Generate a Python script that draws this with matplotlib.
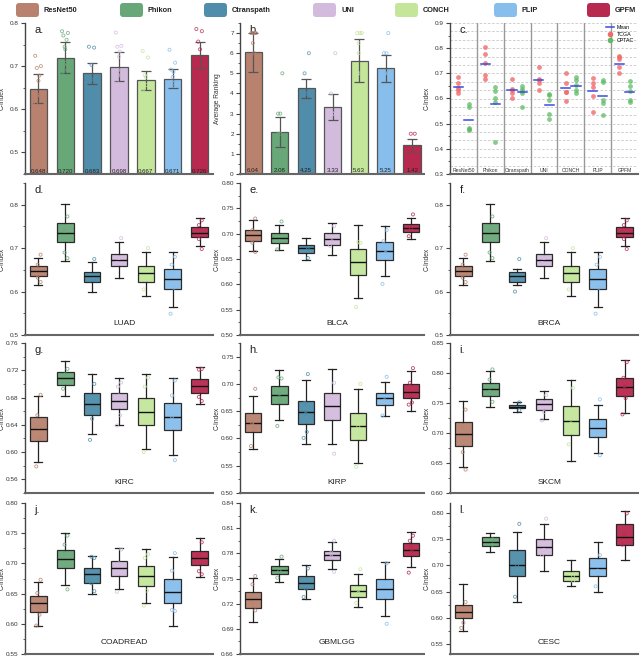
import matplotlib
matplotlib.use("Agg")
import matplotlib.pyplot as plt
import numpy as np
from matplotlib.patches import FancyBboxPatch
from matplotlib.lines import Line2D
from matplotlib.ticker import MultipleLocator

plt.rcParams['font.family'] = ['Liberation Sans', 'DejaVu Sans']

methods = ["ResNet50", "Phikon", "Ctranspath", "UNI", "CONCH", "PLIP", "GPFM"]
colors = ["#B8826F", "#68A878", "#4F8DAA", "#D3BBDD", "#C3E69B", "#87BEEB", "#B8294F"]

# ---- panel a: mean C-index ----
a_means = [0.648, 0.720, 0.683, 0.698, 0.667, 0.671, 0.726]
a_lo = [0.614, 0.684, 0.659, 0.665, 0.645, 0.650, 0.696]
a_hi = [0.682, 0.756, 0.707, 0.732, 0.689, 0.694, 0.756]
a_pts = [
    [0.724, 0.700, 0.696, 0.678, 0.666, 0.634, 0.631, 0.613, 0.517],
    [0.781, 0.777, 0.771, 0.761, 0.745, 0.739, 0.708, 0.703, 0.691, 0.679, 0.576],
    [0.745, 0.743, 0.703, 0.669, 0.635, 0.622],
    [0.778, 0.747, 0.745, 0.734, 0.722, 0.691, 0.679, 0.664, 0.573],
    [0.735, 0.720, 0.679, 0.675, 0.656, 0.640, 0.623],
    [0.738, 0.708, 0.692, 0.687, 0.675, 0.664, 0.654, 0.629, 0.608],
    [0.786, 0.781, 0.757, 0.739, 0.718, 0.695, 0.687, 0.625],
]

# ---- panel b: average ranking ----
b_means = [6.04, 2.08, 4.25, 3.33, 5.63, 5.25, 1.42]
b_lo = [5.06, 1.34, 3.77, 2.70, 4.55, 4.57, 1.09]
b_hi = [7.02, 2.82, 4.73, 3.97, 6.70, 5.92, 1.74]
b_pts = [
    [7, 7, 7, 7, 6.5, 6, 4, 2],
    [5, 3, 3, 2, 2, 1],
    [6, 5, 4, 4, 4, 3],
    [6, 4, 3, 3, 3, 2],
    [7, 7, 7, 6.5, 6, 5, 5, 1],
    [7, 6, 6, 5, 5, 4, 3],
    [2, 2, 1, 1, 1],
]

# ---- panel c: TCGA vs CPTAC ----
c_tcga = [
    [0.687, 0.663, 0.640, 0.633, 0.620],
    [0.805, 0.776, 0.743, 0.693, 0.679],
    [0.676, 0.639, 0.632, 0.623, 0.601],
    [0.725, 0.676, 0.672, 0.660, 0.633],
    [0.700, 0.663, 0.627, 0.625, 0.592],
    [0.680, 0.660, 0.644, 0.611, 0.545],
    [0.767, 0.763, 0.757, 0.725, 0.700],
]
c_cptac = [
    [0.579, 0.565, 0.483, 0.479, 0.476],
    [0.645, 0.629, 0.603, 0.587, 0.427],
    [0.649, 0.636, 0.629, 0.623, 0.565],
    [0.616, 0.613, 0.595, 0.539, 0.517],
    [0.685, 0.673, 0.653, 0.633, 0.621],
    [0.673, 0.667, 0.593, 0.583, 0.536],
    [0.669, 0.649, 0.629, 0.595, 0.587],
]
c_tcga_mean = [0.647, 0.739, 0.633, 0.673, 0.643, 0.628, 0.739]
c_cptac_mean = [0.516, 0.579, 0.625, 0.576, 0.651, 0.608, 0.624]

# ---- box panels: (low whisker, q1, median, q3, high whisker) ----
luad_stats = [(0.614, 0.636, 0.647, 0.658, 0.677), (0.671, 0.713, 0.736, 0.758, 0.802),
              (0.600, 0.622, 0.636, 0.645, 0.667), (0.632, 0.658, 0.673, 0.687, 0.714),
              (0.590, 0.623, 0.642, 0.660, 0.691), (0.564, 0.605, 0.628, 0.652, 0.692),
              (0.704, 0.725, 0.736, 0.749, 0.770)]
luad_pts = [[0.685, 0.662, 0.632, 0.622], [0.773, 0.740, 0.690, 0.677], [0.675, 0.628],
            [0.723, 0.677, 0.666], [0.700, 0.628, 0.605], [0.680, 0.662, 0.645, 0.609, 0.549],
            [0.764, 0.753, 0.721, 0.698]]
blca_stats = [(0.666, 0.685, 0.697, 0.707, 0.727), (0.667, 0.682, 0.692, 0.701, 0.717),
              (0.649, 0.662, 0.671, 0.678, 0.691), (0.657, 0.677, 0.690, 0.701, 0.722),
              (0.573, 0.619, 0.644, 0.670, 0.717), (0.616, 0.648, 0.666, 0.683, 0.715),
              (0.690, 0.704, 0.711, 0.719, 0.731)]
blca_pts = [[0.730, 0.707, 0.682, 0.664], [0.724, 0.685, 0.669], [0.669, 0.652],
            [0.715, 0.685, 0.676], [0.682, 0.683, 0.555], [0.707, 0.685, 0.674, 0.662, 0.601],
            [0.738, 0.711, 0.695]]
brca_stats = [(0.614, 0.636, 0.647, 0.658, 0.677), (0.671, 0.713, 0.736, 0.758, 0.802),
              (0.614, 0.622, 0.636, 0.645, 0.652), (0.632, 0.658, 0.673, 0.687, 0.714),
              (0.590, 0.623, 0.642, 0.660, 0.691), (0.564, 0.605, 0.628, 0.652, 0.692),
              (0.704, 0.725, 0.736, 0.749, 0.770)]
brca_pts = [[0.685, 0.662, 0.632, 0.622], [0.773, 0.740, 0.690, 0.677], [0.675, 0.628, 0.600],
            [0.723, 0.677, 0.666], [0.700, 0.628, 0.605], [0.680, 0.662, 0.645, 0.609, 0.549],
            [0.764, 0.753, 0.721, 0.698]]
kirc_stats = [(0.586, 0.616, 0.634, 0.652, 0.682), (0.683, 0.699, 0.709, 0.718, 0.733),
              (0.626, 0.654, 0.670, 0.686, 0.715), (0.640, 0.663, 0.675, 0.686, 0.708),
              (0.604, 0.640, 0.659, 0.679, 0.714), (0.596, 0.632, 0.652, 0.672, 0.709),
              (0.670, 0.687, 0.697, 0.707, 0.725)]
kirc_pts = [[0.684, 0.654, 0.637, 0.620, 0.579], [0.722, 0.714, 0.693], [0.700, 0.649, 0.618],
            [0.702, 0.696, 0.683, 0.654, 0.639], [0.709, 0.696, 0.649, 0.643, 0.600],
            [0.705, 0.683, 0.652, 0.588], [0.722, 0.721, 0.681, 0.675]]
kirp_stats = [(0.581, 0.612, 0.629, 0.646, 0.677), (0.634, 0.663, 0.680, 0.696, 0.726),
              (0.590, 0.627, 0.649, 0.668, 0.707), (0.590, 0.634, 0.659, 0.683, 0.727),
              (0.555, 0.598, 0.623, 0.646, 0.691), (0.642, 0.662, 0.674, 0.684, 0.704),
              (0.651, 0.674, 0.686, 0.699, 0.723)]
kirp_pts = [[0.691, 0.629, 0.624, 0.618, 0.586], [0.710, 0.712, 0.682, 0.671, 0.623],
            [0.718, 0.665, 0.645, 0.612, 0.601], [0.702, 0.677, 0.639, 0.572],
            [0.700, 0.635, 0.622, 0.609, 0.548], [0.713, 0.670, 0.642],
            [0.729, 0.702, 0.679, 0.666, 0.662]]
skcm_stats = [(0.643, 0.679, 0.699, 0.719, 0.754), (0.743, 0.762, 0.773, 0.784, 0.803),
              (0.735, 0.741, 0.743, 0.746, 0.751), (0.724, 0.739, 0.748, 0.756, 0.770),
              (0.653, 0.696, 0.720, 0.745, 0.789), (0.667, 0.694, 0.709, 0.724, 0.746),
              (0.733, 0.761, 0.777, 0.792, 0.821)]
skcm_pts = [[0.739, 0.710, 0.668, 0.639], [0.806, 0.789, 0.769, 0.752], [0.751, 0.738],
            [0.763, 0.735, 0.721], [0.775, 0.716, 0.681], [0.756, 0.714, 0.701, 0.663],
            [0.818, 0.792, 0.778, 0.758, 0.731]]
coad_stats = [(0.596, 0.619, 0.634, 0.646, 0.670), (0.665, 0.692, 0.708, 0.723, 0.751),
              (0.649, 0.668, 0.682, 0.692, 0.713), (0.657, 0.679, 0.692, 0.704, 0.726),
              (0.635, 0.663, 0.679, 0.696, 0.724), (0.597, 0.634, 0.653, 0.674, 0.711),
              (0.678, 0.698, 0.709, 0.720, 0.742)]
coad_pts = [[0.673, 0.651, 0.628, 0.615, 0.597], [0.746, 0.731, 0.716, 0.657],
            [0.709, 0.711, 0.667, 0.654], [0.723, 0.700, 0.653],
            [0.715, 0.709, 0.689, 0.655, 0.630], [0.717, 0.688, 0.623, 0.621],
            [0.735, 0.712, 0.687, 0.682]]
gbm_stats = [(0.698, 0.715, 0.725, 0.734, 0.751), (0.746, 0.755, 0.760, 0.765, 0.773),
             (0.725, 0.738, 0.745, 0.753, 0.766), (0.761, 0.772, 0.778, 0.783, 0.794),
             (0.716, 0.728, 0.735, 0.742, 0.755), (0.705, 0.726, 0.738, 0.749, 0.770),
             (0.764, 0.777, 0.784, 0.792, 0.805)]
gbm_pts = [[0.753, 0.743, 0.721, 0.712], [0.776, 0.759, 0.751], [0.762, 0.738, 0.728],
           [0.795, 0.781, 0.776, 0.758], [0.761, 0.733, 0.721], [0.768, 0.745, 0.741, 0.696],
           [0.801, 0.795, 0.788, 0.782, 0.757]]
cesc_stats = [(0.575, 0.600, 0.610, 0.625, 0.665), (0.725, 0.738, 0.745, 0.755, 0.762),
              (0.630, 0.680, 0.700, 0.730, 0.765), (0.690, 0.720, 0.735, 0.750, 0.780),
              (0.660, 0.670, 0.680, 0.690, 0.710), (0.650, 0.680, 0.695, 0.715, 0.745),
              (0.710, 0.740, 0.755, 0.780, 0.805)]
cesc_pts = [[0.630, 0.590, 0.580], [0.750, 0.740], [0.780, 0.700, 0.640],
            [0.790, 0.730, 0.720], [0.680, 0.670], [0.720, 0.690, 0.660],
            [0.800, 0.760, 0.740]]

W, H = 640, 657
fig = plt.figure(figsize=(W / 100, H / 100), dpi=100)

def ax_px(left, top, right, bottom):
    a = fig.add_axes([left / W, 1 - bottom / H, (right - left) / W, (bottom - top) / H])
    a._wpx = right - left
    return a

SP = "#444444"
TFS = 4.6

def style(ax, major, minor, fmt):
    for s in ("top", "right"):
        ax.spines[s].set_visible(False)
    ax.spines["left"].set_color(SP)
    ax.spines["left"].set_linewidth(1.0)
    ax.spines["bottom"].set_color("#666666")
    ax.spines["bottom"].set_linewidth(1.5)
    ax.yaxis.set_major_locator(MultipleLocator(major))
    ax.yaxis.set_minor_locator(MultipleLocator(minor))
    ax.yaxis.set_major_formatter(plt.FormatStrFormatter(fmt))
    ax.tick_params(axis="y", which="major", length=3, width=0.8, labelsize=TFS, pad=1.5,
                   colors=SP, labelcolor="#333333")
    ax.tick_params(axis="y", which="minor", length=1.6, width=0.6, colors=SP)

def panel_label(ax, s):
    ax.text(0.05, 0.985, s, transform=ax.transAxes, fontsize=8, va="top", ha="left", color="#222222")

def ylab(ax, s):
    ax.set_ylabel(s, fontsize=4.8, color="#333333")
    ax.yaxis.set_label_coords(-19.0 / ax._wpx, 0.5)

cols = [(25, 213), (240, 424), (450, 638)]
rows = [(23, 174), (183, 335), (343, 493), (503, 654)]
x = np.arange(1, 8)

# ---- legend row ----
leg_x = [16, 120, 204, 313, 395, 494, 587]
for i, m in enumerate(methods):
    px = leg_x[i]
    fig.patches.append(FancyBboxPatch((px / W, 1 - 17 / H), 23 / W, 14 / H,
                                      boxstyle="round,pad=0,rounding_size=0.005",
                                      transform=fig.transFigure, facecolor=colors[i],
                                      edgecolor="none"))
    fig.text((px + 28) / W, 1 - 10 / H, m, fontsize=5.3, fontweight="bold", va="center",
             ha="left", color="#222222")

# ---- panel a ----
ax = ax_px(cols[0][0], rows[0][0], cols[0][1], rows[0][1])
style(ax, 0.1, 0.05, "%.1f")
ax.set_ylim(0.45, 0.8)
ax.set_xlim(0.5, 7.5)
ax.bar(x, np.array(a_means) - 0.45, bottom=0.45, width=0.65, color=colors,
       edgecolor="#555555", linewidth=0.9, zorder=2)
ax.errorbar(x, a_means, yerr=[np.array(a_means) - a_lo, np.array(a_hi) - a_means], fmt="none",
            ecolor="#555555", elinewidth=0.9, capsize=3.5, capthick=0.9, zorder=3)
for i, pts in enumerate(a_pts):
    offs = np.linspace(-0.12, 0.12, len(pts))[::-1] * np.array([1 if k % 2 else -1 for k in range(len(pts))])
    ax.scatter(x[i] + offs, pts, s=5, facecolors="none", edgecolors=colors[i], linewidths=0.6,
               alpha=0.8, zorder=4)
    ax.text(x[i], 0.451, f"{a_means[i]:.3f}", fontsize=4.4, ha="center", va="bottom",
            color="#222222", zorder=5)
ax.set_xticks([])
ylab(ax, "C-Index")
panel_label(ax, "a.")

# ---- panel b ----
ax = ax_px(cols[1][0], rows[0][0], cols[1][1], rows[0][1])
style(ax, 1, 0.5, "%d")
ax.set_ylim(0, 7.5)
ax.set_xlim(0.5, 7.45)
ax.bar(x, b_means, width=0.65, color=colors, edgecolor="#555555", linewidth=0.9, zorder=2)
ax.errorbar(x, b_means, yerr=[np.array(b_means) - b_lo, np.array(b_hi) - b_means], fmt="none",
            ecolor="#555555", elinewidth=0.9, capsize=3.5, capthick=0.9, zorder=3)
for i, pts in enumerate(b_pts):
    offs = np.linspace(-0.1, 0.1, len(pts)) * np.array([1 if k % 2 else -1 for k in range(len(pts))])
    ax.scatter(x[i] + offs, pts, s=5, facecolors="none", edgecolors=colors[i], linewidths=0.6,
               alpha=0.8, zorder=4)
    ax.text(x[i], 0.03, f"{b_means[i]:.2f}", fontsize=4.4, ha="center", va="bottom",
            color="#222222", zorder=5)
ax.set_xticks([])
ylab(ax, "Average Ranking")
panel_label(ax, "b.")

# ---- panel c ----
ax = ax_px(cols[2][0], rows[0][0], cols[2][1], rows[0][1])
style(ax, 0.1, 0.05, "%.1f")
ax.set_ylim(0.3, 0.9)
ax.set_xlim(0, 7)
for k in range(1, 30):
    yv = 0.3 + k / 30
    ax.axhline(yv, color="#C8C8C8", lw=0.6, ls=(0, (3, 2)), zorder=0)
for k in range(1, 7):
    ax.axvline(k, color="#999999", lw=1.0, zorder=1)
for i in range(7):
    xt, xc = i + 0.31, i + 0.69
    ax.scatter(np.full(len(c_tcga[i]), xt), c_tcga[i], s=12, color="#F26B6B", alpha=0.8,
               linewidths=0, zorder=3)
    ax.scatter(np.full(len(c_cptac[i]), xc), c_cptac[i], s=12, color="#5DBB63", alpha=0.75,
               linewidths=0, zorder=3)
    ax.plot([xt - 0.17, xt + 0.17], [c_tcga_mean[i]] * 2, color="#3B4CE0", lw=1.1, zorder=4)
    ax.plot([xc - 0.17, xc + 0.17], [c_cptac_mean[i]] * 2, color="#3B4CE0", lw=1.1, zorder=4)
    ax.text(i + 0.5, 0.305, methods[i], fontsize=3.6, ha="center", va="bottom", color="#333333")
ax.set_xticks([])
ylab(ax, "C-Index")
panel_label(ax, "c.")
handles = [Line2D([], [], color="#3B4CE0", lw=1.1),
           Line2D([], [], marker="o", ls="none", color="#F26B6B", markersize=3),
           Line2D([], [], marker="o", ls="none", color="#5DBB63", markersize=3)]
ax.legend(handles, ["Mean", "TCGA", "CPTAC"], loc="upper right", fontsize=3.8, frameon=False,
          handlelength=1.6, borderpad=0.2, labelspacing=0.25, handletextpad=0.5,
          bbox_to_anchor=(1.0, 1.01))

# ---- box panels ----
box_panels = [
    ("d.", "LUAD", luad_stats, luad_pts, (0.5, 0.85), 0.1, 0.05, "%.1f"),
    ("e.", "BLCA", blca_stats, blca_pts, (0.5, 0.8), 0.05, 0.025, "%.2f"),
    ("f.", "BRCA", brca_stats, brca_pts, (0.5, 0.85), 0.1, 0.05, "%.1f"),
    ("g.", "KIRC", kirc_stats, kirc_pts, (0.54, 0.76), 0.04, 0.02, "%.2f"),
    ("h.", "KIRP", kirp_stats, kirp_pts, (0.5, 0.775), 0.05, 0.025, "%.2f"),
    ("i.", "SKCM", skcm_stats, skcm_pts, (0.6, 0.85), 0.05, 0.025, "%.2f"),
    ("j.", "COADREAD", coad_stats, coad_pts, (0.55, 0.8), 0.05, 0.025, "%.2f"),
    ("k.", "GBMLGG", gbm_stats, gbm_pts, (0.66, 0.84), 0.03, 0.015, "%.2f"),
    ("l.", "CESC", cesc_stats, cesc_pts, (0.53, 0.82), 0.05, 0.025, "%.2f"),
]
for idx, (lab, name, stats, pts, ylim, maj, mnr, fmt) in enumerate(box_panels):
    r, c = 1 + idx // 3, idx % 3
    ax = ax_px(cols[c][0], rows[r][0], cols[c][1], rows[r][1])
    style(ax, maj, mnr, fmt)
    bstats = [dict(whislo=s[0], q1=s[1], med=s[2], q3=s[3], whishi=s[4], fliers=[]) for s in stats]
    bp = ax.bxp(bstats, positions=x, widths=0.62, patch_artist=True, showfliers=False,
                boxprops=dict(edgecolor="#222222", linewidth=0.9),
                medianprops=dict(color="#111111", linewidth=1.0),
                whiskerprops=dict(color="#222222", linewidth=0.9),
                capprops=dict(color="#222222", linewidth=0.9), capwidths=0.3)
    for patch, col in zip(bp["boxes"], colors):
        patch.set_facecolor(col)
        patch.set_alpha(0.95)
    for i, p in enumerate(pts):
        offs = np.linspace(-0.08, 0.08, len(p)) * np.array([1 if k % 2 else -1 for k in range(len(p))])
        ax.scatter(x[i] + offs, p, s=5, facecolors="none", edgecolors=colors[i], linewidths=0.6,
                   alpha=0.85, zorder=5)
    ax.set_xticks([])
    ax.set_ylim(*ylim)
    ax.set_xlim(0.5, 7.5)
    ax.text(4.2, ylim[0] + (ylim[1] - ylim[0]) * 0.05, name, fontsize=6, ha="center", va="bottom",
            color="#222222")
    ylab(ax, "C-Index")
    panel_label(ax, lab)

fig.savefig("out.png", dpi=100)
